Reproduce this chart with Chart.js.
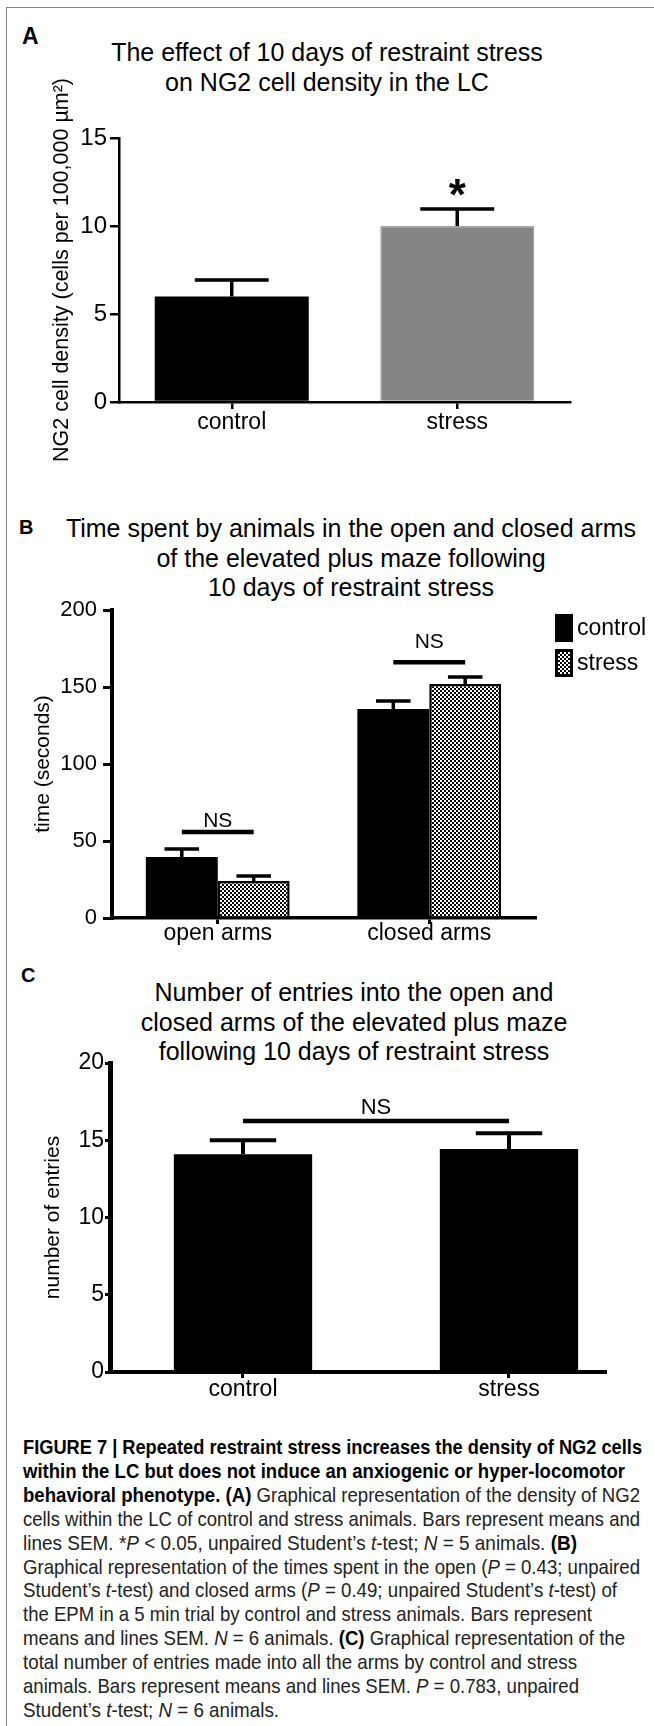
<!DOCTYPE html>
<html>
<head>
<meta charset="utf-8">
<script src="https://cdn.jsdelivr.net/npm/chart.js@4.4.1/dist/chart.umd.min.js"></script>
<style>
  html, body { margin: 0; padding: 0; background: #fff; }
  body { width: 654px; height: 1726px; position: relative; overflow: hidden;
         font-family: 'Liberation Sans', Arial, sans-serif; color: #000; }
  .frame { position: absolute; left: 6px; top: 7px; width: 800px; height: 1900px;
           border-left: 1.5px solid #858585; border-top: 1.5px solid #858585; }
  .letter { position: absolute; font-weight: bold; line-height: 1; }
  .title { position: absolute; width: 620px; text-align: center; font-size: 25px; line-height: 29.5px; }
  canvas { position: absolute; left: 0; }
  .caption { position: absolute; left: 23px; top: 1435px; font-size: 21px; line-height: 23.9px; color: #222; }
  .caption .ln { white-space: nowrap; transform-origin: 0 0; }
  .caption b { color: #000; }
</style>
</head>
<body>
<div class="frame"></div>

<div class="letter" style="left:22px; top:25px; font-size:23px;">A</div>
<div class="title" style="left:17px; top:38px;">The effect of 10 days of restraint stress<br>on NG2 cell density in the LC</div>
<canvas id="chartA" width="654" height="470" style="top:0px;"></canvas>

<div class="letter" style="left:19px; top:517px; font-size:20px;">B</div>
<div class="title" style="left:41px; top:514px;">Time spent by animals in the open and closed arms<br>of the elevated plus maze following<br>10 days of restraint stress</div>
<canvas id="chartB" width="654" height="480" style="top:470px;"></canvas>

<div class="letter" style="left:21px; top:965px; font-size:20px;">C</div>
<div class="title" style="left:44px; top:978px;">Number of entries into the open and<br>closed arms of the elevated plus maze<br>following 10 days of restraint stress</div>
<canvas id="chartC" width="654" height="470" style="top:950px;"></canvas>

<div class="caption">
  <div class="ln"><span><b>FIGURE 7 | Repeated restraint stress increases the density of NG2 cells</b></span></div>
  <div class="ln"><span><b>within the LC but does not induce an anxiogenic or hyper-locomotor</b></span></div>
  <div class="ln"><span><b>behavioral phenotype. (A)</b> Graphical representation of the density of NG2</span></div>
  <div class="ln"><span>cells within the LC of control and stress animals. Bars represent means and</span></div>
  <div class="ln"><span>lines SEM. *<i>P</i> &lt; 0.05, unpaired Student’s <i>t</i>-test; <i>N</i> = 5 animals. <b>(B)</b></span></div>
  <div class="ln"><span>Graphical representation of the times spent in the open (<i>P</i> = 0.43; unpaired</span></div>
  <div class="ln"><span>Student’s <i>t</i>-test) and closed arms (<i>P</i> = 0.49; unpaired Student’s <i>t</i>-test) of</span></div>
  <div class="ln"><span>the EPM in a 5 min trial by control and stress animals. Bars represent</span></div>
  <div class="ln"><span>means and lines SEM. <i>N</i> = 6 animals. <b>(C)</b> Graphical representation of the</span></div>
  <div class="ln"><span>total number of entries made into all the arms by control and stress</span></div>
  <div class="ln"><span>animals. Bars represent means and lines SEM. <i>P</i> = 0.783, unpaired</span></div>
  <div class="ln"><span>Student’s <i>t</i>-test; <i>N</i> = 6 animals.</span></div>
</div>

<script>
// panel A: NG2 cell density
const aLabels = ['control', 'stress'];
const aMeans = [6.0, 10.0];
const aSem = [0.93, 0.97];
const aStarAt = 10.9;

// panel B: time in open / closed arms
const bLabels = ['open arms', 'closed arms'];
const bSeries = ['control', 'stress'];
const bControl = [39.6, 135.7];
const bControlSem = [5.2, 5.2];
const bStress = [24.0, 151.9];
const bStressSem = [3.3, 4.6];
const bLineAt = [55.8, 166];
const bTextAt = [59.0, 175.5];

// panel C: number of entries
const cLabels = ['control', 'stress'];
const cMeans = [14.1, 14.43];
const cSem = [0.9, 1.02];
const cLineAt = 16.25;
const cTextAt = 16.7;

const FONT = "'Liberation Sans', Arial, sans-serif";
Chart.defaults.font.family = FONT;
Chart.defaults.color = '#000';

const checker = (() => {
  const c = document.createElement('canvas');
  c.width = 4; c.height = 4;
  const g = c.getContext('2d');
  g.fillStyle = '#fff'; g.fillRect(0, 0, 4, 4);
  g.fillStyle = '#000'; g.fillRect(0, 0, 2, 2); g.fillRect(2, 2, 2, 2);
  return g.createPattern(c, 'repeat');
})();

const valueOf = d => (typeof d === 'object' ? d.y : d);

const errorBars = {
  id: 'errorBars',
  afterDatasetsDraw(chart, args, opts) {
    const ctx = chart.ctx, ys = chart.scales.y;
    chart.data.datasets.forEach((ds, di) => {
      if (!ds.errors) return;
      chart.getDatasetMeta(di).data.forEach((bar, i) => {
        const v = valueOf(ds.data[i]);
        const top = ys.getPixelForValue(v);
        const cap = ys.getPixelForValue(v + ds.errors[i]);
        const half = bar.width * opts.capRatio;
        ctx.save();
        ctx.strokeStyle = '#000';
        ctx.lineWidth = opts.lineWidth;
        ctx.beginPath();
        ctx.moveTo(bar.x, top); ctx.lineTo(bar.x, cap);
        ctx.moveTo(bar.x - half, cap); ctx.lineTo(bar.x + half, cap);
        ctx.stroke();
        ctx.restore();
      });
    });
  }
};

// significance marks: optional line between two bars and a label above it
const notes = {
  id: 'notes',
  afterDatasetsDraw(chart, args, opts) {
    const ctx = chart.ctx, ys = chart.scales.y;
    (opts.items || []).forEach(it => {
      const b1 = chart.getDatasetMeta(it.from[0]).data[it.from[1]];
      const b2 = chart.getDatasetMeta(it.to[0]).data[it.to[1]];
      ctx.save();
      if (it.line != null) {
        const ly = ys.getPixelForValue(it.line);
        ctx.strokeStyle = '#000';
        ctx.lineWidth = opts.lineWidth;
        ctx.beginPath(); ctx.moveTo(b1.x, ly); ctx.lineTo(b2.x, ly); ctx.stroke();
      }
      ctx.fillStyle = '#000';
      ctx.font = it.font;
      ctx.textAlign = 'center';
      ctx.textBaseline = 'alphabetic';
      ctx.fillText(it.text, (b1.x + b2.x) / 2, ys.getPixelForValue(it.textAt));
      ctx.restore();
    });
  }
};

// legend drawn to the right of the plot (panel B)
const sideLegend = {
  id: 'sideLegend',
  afterDraw(chart, args, opts) {
    if (!opts.show) return;
    const ctx = chart.ctx, area = chart.chartArea;
    chart.data.datasets.forEach((ds, i) => {
      const x = area.right + 20, y = area.top + 4 + i * 35;
      ctx.save();
      ctx.fillStyle = ds.backgroundColor;
      ctx.fillRect(x, y, 18, 28);
      if (ds.borderWidth) {
        ctx.strokeStyle = '#000';
        ctx.lineWidth = 3;
        ctx.strokeRect(x + 1.5, y + 1.5, 15, 25);
      }
      ctx.fillStyle = '#000';
      ctx.font = '23px ' + FONT;
      ctx.textBaseline = 'middle';
      ctx.fillText(ds.label, x + 22, y + 15);
      ctx.restore();
    });
  }
};

function yAxis(o) {
  return {
    min: 0, max: o.max,
    ticks: { stepSize: o.step, font: { size: o.tickSize }, padding: o.tickPad, color: '#000' },
    grid: { drawOnChartArea: false, tickLength: o.tickLen, lineWidth: o.tickWidth, color: '#000' },
    border: { width: o.border, color: '#000' },
    title: { display: true, text: o.title, font: { size: o.titleSize }, padding: { top: o.titlePad, bottom: 0 }, color: '#000' },
    afterFit(s) { s.width = o.width; }
  };
}

function xGrid(len, w) {
  return { offset: false, drawOnChartArea: false, tickLength: len, lineWidth: w, color: '#000' };
}

const common = {
  responsive: false,
  animation: false,
  devicePixelRatio: 1,
  events: []
};

// ---- A ----
new Chart(document.getElementById('chartA'), {
  type: 'bar',
  data: {
    labels: aLabels,
    datasets: [{
      data: aMeans,
      errors: aSem,
      backgroundColor: ['#000000', '#858585'],
      borderColor: ['#000000', '#a2a2a2'],
      borderWidth: [0, 1.2],
      borderSkipped: 'start',
      barPercentage: 0.683,
      categoryPercentage: 1
    }]
  },
  options: Object.assign({}, common, {
    layout: { padding: { top: 138, left: 30, right: 84, bottom: 28 } },
    plugins: {
      legend: { display: false },
      tooltip: { enabled: false },
      errorBars: { capRatio: 0.24, lineWidth: 3.5 },
      notes: { lineWidth: 4, items: [
        { from: [0, 1], to: [0, 1], textAt: aStarAt, text: '*', font: 'bold 44px ' + FONT }
      ] }
    },
    scales: {
      x: {
        grid: xGrid(7, 2.5),
        border: { width: 2.5, color: '#000' },
        ticks: { font: { size: 23 }, padding: 0, color: '#000' },
        afterFit(s) { s.height = 40; }
      },
      y: yAxis({ max: 15, step: 5, tickSize: 24, tickPad: 3, tickLen: 9, tickWidth: 2.5, border: 2.5,
                 title: 'NG2 cell density (cells per 100,000 µm²)', titleSize: 21.5, titlePad: 19, width: 89 })
    }
  }),
  plugins: [errorBars, notes]
});

// ---- B ----
new Chart(document.getElementById('chartB'), {
  type: 'bar',
  data: {
    labels: bLabels,
    datasets: [{
      label: bSeries[0],
      data: bControl,
      errors: bControlSem,
      backgroundColor: '#000000',
      borderWidth: 0
    }, {
      label: bSeries[1],
      data: bStress,
      errors: bStressSem,
      backgroundColor: checker,
      borderColor: '#000000',
      borderWidth: 2.5,
      borderSkipped: 'start'
    }]
  },
  options: Object.assign({}, common, {
    layout: { padding: { top: 140, left: 15, right: 119, bottom: 2 } },
    datasets: { bar: { barPercentage: 1, categoryPercentage: 0.68 } },
    plugins: {
      legend: { display: false },
      tooltip: { enabled: false },
      sideLegend: { show: true },
      errorBars: { capRatio: 0.24, lineWidth: 3.5 },
      notes: { lineWidth: 4.5, items: bLabels.map((l, i) => (
        { from: [0, i], to: [1, i], line: bLineAt[i], textAt: bTextAt[i], text: 'NS', font: '21px ' + FONT }
      )) }
    },
    scales: {
      x: {
        grid: xGrid(6, 3),
        border: { width: 3.5, color: '#000' },
        ticks: { font: { size: 23 }, padding: -4, color: '#000' },
        afterFit(s) { s.height = 30; }
      },
      y: yAxis({ max: 200, step: 50, tickSize: 22, tickPad: 6, tickLen: 9, tickWidth: 3, border: 4,
                 title: 'time (seconds)', titleSize: 21, titlePad: 16, width: 97 })
    }
  }),
  plugins: [errorBars, notes, sideLegend]
});

// ---- C ----
new Chart(document.getElementById('chartC'), {
  type: 'bar',
  data: {
    datasets: [{
      data: cMeans.map((v, i) => ({ x: i, y: v })),
      errors: cSem,
      backgroundColor: '#000000',
      borderWidth: 0,
      barPercentage: 0.52,
      categoryPercentage: 1
    }]
  },
  options: Object.assign({}, common, {
    layout: { padding: { top: 113, left: 20, right: 49, bottom: 8 } },
    plugins: {
      legend: { display: false },
      tooltip: { enabled: false },
      errorBars: { capRatio: 0.24, lineWidth: 4 },
      notes: { lineWidth: 4.5, items: [
        { from: [0, 0], to: [0, 1], line: cLineAt, textAt: cTextAt, text: 'NS', font: '22px ' + FONT }
      ] }
    },
    scales: {
      x: {
        type: 'linear',
        min: -0.5, max: 1.361,
        offset: false,
        afterBuildTicks(s) { s.ticks = cLabels.map((l, i) => ({ value: i })); },
        grid: xGrid(6, 3),
        border: { width: 4, color: '#000' },
        ticks: { font: { size: 23 }, padding: -2, color: '#000', callback: v => cLabels[v] },
        afterFit(s) { s.height = 40; }
      },
      y: yAxis({ max: 20, step: 5, tickSize: 23, tickPad: 1, tickLen: 5, tickWidth: 3, border: 5,
                 title: 'number of entries', titleSize: 21, titlePad: 21, width: 90 })
    }
  }),
  plugins: [errorBars, notes]
});

// caption: condensed look, each line squeezed to the width it has in the figure
const captionLineEnds = [642, 625, 640, 640, 577, 640, 617, 592, 625, 577, 579, 279];
document.querySelectorAll('.caption .ln').forEach((el, i) => {
  const w = el.firstElementChild.getBoundingClientRect().width;
  el.style.transform = 'scaleX(' + ((captionLineEnds[i] - 23) / w).toFixed(4) + ')';
});
</script>
</body>
</html>
